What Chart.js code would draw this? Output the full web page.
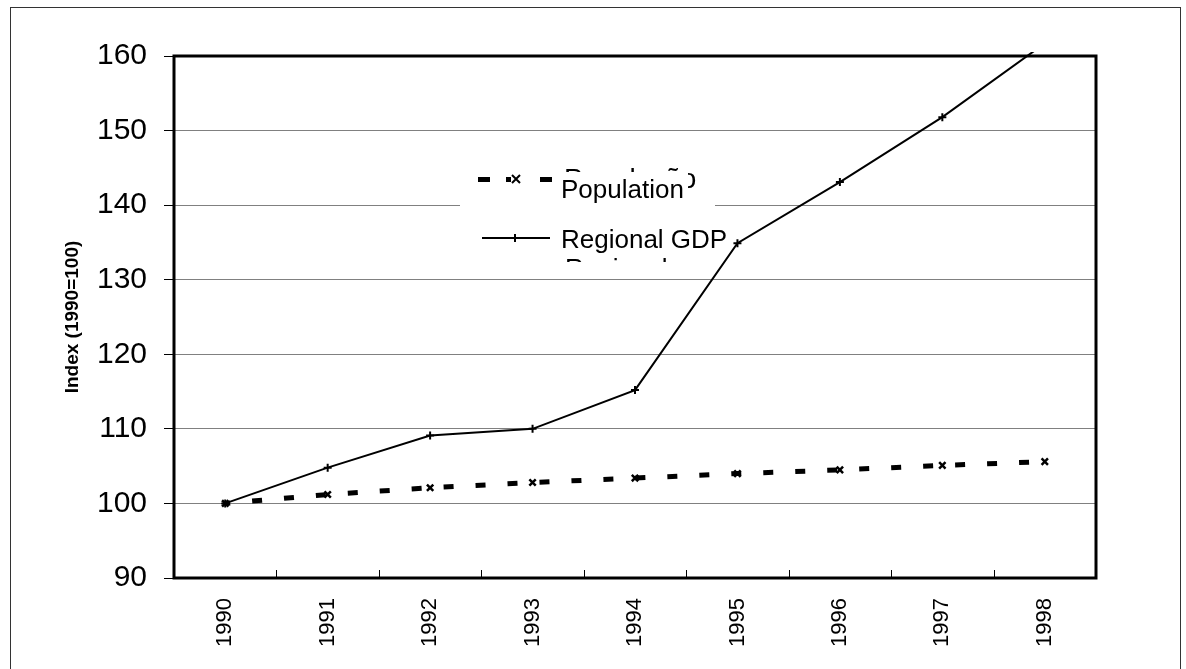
<!DOCTYPE html>
<html>
<head>
<meta charset="utf-8">
<script src="https://cdn.jsdelivr.net/npm/chart.js@4/dist/chart.umd.min.js"></script>
<style>
  body { margin: 0; background: #fff; }
  canvas { display: block; }
</style>
</head>
<body>
<canvas id="chart" width="1186" height="669"></canvas>
<script>
// Data
const years = ['1990', '1991', '1992', '1993', '1994', '1995', '1996', '1997', '1998'];
const population = [100, 101.2, 102.1, 102.8, 103.4, 104.0, 104.5, 105.1, 105.6];
const regionalGdp = [100, 104.8, 109.1, 110.0, 115.2, 134.9, 143.1, 151.8, 161.7];
const yTicks = [90, 100, 110, 120, 130, 140, 150, 160];

const FONT = 'Arial, "Liberation Sans", sans-serif';

// Frame, plot border, inner x ticks and the legend box
const decorations = {
    id: 'decorations',
    beforeDraw(chart) {
        const ctx = chart.ctx;
        ctx.save();
        ctx.strokeStyle = '#333';
        ctx.lineWidth = 1;
        ctx.strokeRect(10.5, 7.5, 1170, 700);
        ctx.restore();
    },
    afterDatasetsDraw(chart) {
        const ctx = chart.ctx;
        const area = chart.chartArea;
        const x = chart.scales.x;
        ctx.save();

        // plot area border
        ctx.strokeStyle = '#000';
        ctx.lineWidth = 3;
        ctx.strokeRect(area.left, area.top, area.right - area.left, area.bottom - area.top);

        // small tick marks between categories, pointing up
        ctx.lineWidth = 1;
        const step = x.getPixelForValue(1) - x.getPixelForValue(0);
        for (let i = 1; i < years.length; i++) {
            const px = Math.round(x.getPixelForValue(i) - step / 2) + 0.5;
            ctx.beginPath();
            ctx.moveTo(px, area.bottom);
            ctx.lineTo(px, area.bottom - 8);
            ctx.stroke();
        }

        // legend box
        ctx.fillStyle = '#fff';
        ctx.fillRect(460, 150, 255, 112);

        ctx.fillStyle = '#000';
        ctx.textBaseline = 'alphabetic';

        // leftover Portuguese labels, mostly hidden behind the English ones
        ctx.save();
        ctx.beginPath();
        ctx.rect(460, 150, 255, 112);
        ctx.clip();
        ctx.font = '28px ' + FONT;
        ctx.fillText('População', 564, 188);
        ctx.font = '26px ' + FONT;
        ctx.fillText('Regional', 565, 277);
        ctx.restore();

        // white backing for the English labels
        ctx.fillStyle = '#fff';
        ctx.fillRect(557, 172, 131, 35);
        ctx.fillRect(557, 225, 160, 33);

        // Population sample
        ctx.fillStyle = '#000';
        ctx.fillRect(478, 177, 12, 5);
        ctx.fillRect(506, 177, 5, 5);
        ctx.fillRect(540, 177, 12, 5);
        ctx.strokeStyle = '#000';
        ctx.lineWidth = 2;
        ctx.beginPath();
        ctx.moveTo(512, 175); ctx.lineTo(520, 183);
        ctx.moveTo(520, 175); ctx.lineTo(512, 183);
        ctx.stroke();

        // Regional GDP sample
        ctx.beginPath();
        ctx.moveTo(482, 238); ctx.lineTo(550, 238);
        ctx.moveTo(515, 234); ctx.lineTo(515, 242);
        ctx.stroke();

        ctx.font = '26px ' + FONT;
        ctx.fillText('Population', 561, 198);
        ctx.fillText('Regional GDP', 561, 248);

        ctx.restore();
    }
};

new Chart(document.getElementById('chart'), {
    type: 'line',
    data: {
        labels: years,
        datasets: [
            {
                label: 'Population',
                data: population,
                borderColor: '#000',
                backgroundColor: '#000',
                borderWidth: 5,
                borderDash: [10, 22],
                borderDashOffset: 5,
                pointStyle: 'crossRot',
                pointRadius: 4.5,
                pointBorderWidth: 2.5,
                pointBorderColor: '#000',
                tension: 0
            },
            {
                label: 'Regional GDP',
                data: regionalGdp,
                borderColor: '#000',
                backgroundColor: '#000',
                borderWidth: 2,
                pointStyle: 'cross',
                pointRadius: 4,
                pointBorderWidth: 2,
                pointBorderColor: '#000',
                tension: 0,
                clip: { left: 5, top: 4, right: 5, bottom: 5 }
            }
        ]
    },
    options: {
        responsive: false,
        animation: false,
        layout: { padding: { top: 56, right: 90, bottom: 0, left: 0 } },
        plugins: {
            legend: { display: false },
            tooltip: { enabled: false }
        },
        scales: {
            x: {
                offset: true,
                grid: { display: false, drawTicks: false },
                border: { display: false },
                ticks: {
                    autoSkip: false,
                    minRotation: 90,
                    maxRotation: 90,
                    padding: 20,
                    color: '#000',
                    font: { family: FONT, size: 22 }
                },
                afterFit(scale) { scale.height = 91; }
            },
            y: {
                min: 90,
                max: 160,
                afterBuildTicks(scale) {
                    scale.ticks = yTicks.map(v => ({ value: v }));
                },
                grid: {
                    color: '#808080',
                    lineWidth: 1,
                    tickLength: 10,
                    tickColor: '#000',
                    tickWidth: 1
                },
                border: { display: false },
                ticks: {
                    padding: 17,
                    color: '#000',
                    font: { family: FONT, size: 30 }
                },
                title: {
                    display: true,
                    text: 'Index (1990=100)',
                    color: '#000',
                    font: { family: FONT, size: 19, weight: 'bold' },
                    padding: { top: 61, bottom: 0 }
                },
                afterFit(scale) { scale.width = 174; }
            }
        }
    },
    plugins: [decorations]
});
</script>
</body>
</html>
